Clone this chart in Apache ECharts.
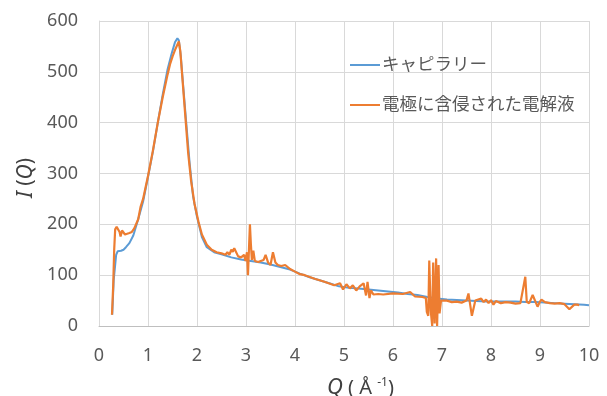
<!DOCTYPE html>
<html><head><meta charset="utf-8">
<script src="https://cdn.jsdelivr.net/npm/echarts@6/dist/echarts.min.js"></script>
<style>html,body{margin:0;padding:0;background:#fff}#c{width:607px;height:396px}</style>
</head><body><div id="c"></div>
<script>
const xTicks = [0,1,2,3,4,5,6,7,8,9,10];
const yTicks = [0,100,200,300,400,500,600];
const seriesNames = ['キャピラリー','電極に含侵された電解液'];

const capQ = [0.27,0.30,0.35,0.38,0.45,0.50,0.55,0.62,0.70,0.80,0.90,1.00,1.10,1.20,1.30,1.40,1.48,1.55,1.60,1.63,1.67,1.72,1.78,1.85,1.92,2.00,2.10,2.20,2.35,2.50,2.70,2.90,3.10,3.30,3.50,3.70,3.90,4.10,4.30,4.50,4.70,4.90,5.10,5.30,5.50,5.70,5.90,6.10,6.30,6.50,6.70,6.90,7.10,7.30,7.50,7.70,7.90,8.10,8.30,8.50,8.70,8.90,9.10,9.30,9.50,9.70,9.90,10.0];
const capI = [22,90,140,147,148,150,155,163,178,210,245,293,343,400,455,505,535,558,566,562,530,470,400,320,255,215,175,155,145,141,135,131,128,125,121,116,111,103,96,90,84,78,75,74,72,70,68,66,63,61,57,54,52,51,50,49,48,48,48,48,47,47,46,45,44,43,42,41];

const elecQ = [0.265,0.29,0.31,0.33,0.36,0.39,0.42,0.44,0.47,0.50,0.53,0.57,0.62,0.67,0.72,0.76,0.80,0.85,0.90,1.00,1.10,1.20,1.30,1.40,1.45,1.50,1.53,1.56,1.60,1.63,1.66,1.70,1.76,1.82,1.88,1.95,2.03,2.10,2.20,2.30,2.40,2.50,2.58,2.62,2.66,2.70,2.73,2.76,2.80,2.84,2.90,2.96,2.99,3.02,3.04,3.06,3.08,3.10,3.12,3.15,3.18,3.25,3.30,3.36,3.40,3.45,3.50,3.55,3.60,3.65,3.72,3.80,3.90,4.00,4.10,4.20,4.40,4.60,4.80,4.92,4.98,5.05,5.12,5.18,5.25,5.32,5.40,5.45,5.48,5.52,5.55,5.60,5.70,5.80,6.00,6.20,6.35,6.45,6.60,6.67,6.69,6.72,6.74,6.77,6.80,6.82,6.85,6.88,6.90,6.93,6.95,6.98,7.02,7.10,7.20,7.30,7.40,7.50,7.54,7.57,7.61,7.65,7.68,7.72,7.80,7.85,7.90,7.95,8.00,8.05,8.10,8.20,8.30,8.40,8.50,8.60,8.70,8.73,8.75,8.78,8.85,8.95,9.00,9.03,9.10,9.20,9.30,9.40,9.50,9.60,9.70,9.76,9.80,9.90,10.0];
const elecI = [22,80,150,190,195,194,185,176,188,185,180,183,183,185,192,193,210,235,250,295,345,400,450,495,515,530,528,545,548,560,540,490,415,340,285,240,205,180,160,150,145,143,140,145,140,150,146,153,150,137,135,140,128,145,100,150,200,160,130,148,128,126,128,130,140,125,120,145,125,120,118,120,112,107,102,100,93,87,80,84,72,82,74,80,70,78,84,60,87,55,70,62,63,62,64,63,67,58,57,55,28,20,129,30,0,125,5,133,0,120,25,50,48,50,47,48,46,50,64,45,20,22,50,47,54,47,52,45,51,42,49,45,47,46,44,45,97,47,46,45,61,38,48,52,47,45,44,45,43,33,42,42,41];

const chart = echarts.init(document.getElementById('c'), null, {renderer:'canvas'});
const font = "'Noto Sans', 'Noto Sans CJK JP', sans-serif";
const pair = (q, v) => q.map((x, i) => [x, v[i]]);
chart.setOption({
  animation: false,
  backgroundColor: '#fff',
  grid: {left: 99, right: 18, top: 21, bottom: 70, containLabel: false},
  legend: {
    orient: 'vertical', left: 345, top: 50, itemWidth: 30, itemHeight: 2, itemGap: 20,
    icon: 'rect',
    textStyle: {fontSize: 17.5, color: '#595959', fontFamily: font, lineHeight: 20, padding: [0,0,0,-3]},
    data: seriesNames
  },
  xAxis: {
    type: 'value', min: xTicks[0], max: xTicks[xTicks.length-1], interval: 1,
    axisLine: {lineStyle: {color: '#bfbfbf', width: 1}},
    axisTick: {show: false},
    splitLine: {show: true, lineStyle: {color: '#d9d9d9', width: 1}},
    axisLabel: {fontSize: 18, color: '#595959', fontFamily: font, margin: 21}
  },
  yAxis: {
    type: 'value', min: yTicks[0], max: yTicks[yTicks.length-1], interval: 100,
    axisLine: {show: true, lineStyle: {color: '#d9d9d9', width: 1}},
    axisTick: {show: false},
    splitLine: {show: true, lineStyle: {color: '#d9d9d9', width: 1}},
    axisLabel: {fontSize: 18, color: '#595959', fontFamily: font, margin: 21}
  },
  graphic: [
    {type: 'text', left: 327, top: 377, style: {
      text: '{q|Q}{n| ( Å }{s|-1}{n|)}', fill: '#404040',
      rich: {
        q: {fontSize: 22, fontStyle: 'italic', fontFamily: font, fill: '#404040'},
        n: {fontSize: 20, fontFamily: font, fill: '#404040'},
        s: {fontSize: 12, fontFamily: font, fill: '#404040', verticalAlign: 'top', padding: [0,0,10,0]}
      }}},
    {type: 'text', x: 16, y: 198, rotation: Math.PI/2, style: {
      text: '{i|I}{n| (}{i|Q}{n|)}',
      rich: {
        i: {fontSize: 21, fontStyle: 'italic', fontFamily: font, fill: '#404040'},
        n: {fontSize: 21, fontFamily: font, fill: '#404040'}
      }}}
  ],
  series: [
    {name: seriesNames[0], type: 'line', data: pair(capQ, capI), showSymbol: false, symbol: 'none',
     lineStyle: {color: '#5B9BD5', width: 2}, itemStyle: {color: '#5B9BD5'}},
    {name: seriesNames[1], type: 'line', data: pair(elecQ, elecI), showSymbol: false, symbol: 'none',
     lineStyle: {color: '#ED7D31', width: 2.2}, itemStyle: {color: '#ED7D31'}}
  ]
});
</script></body></html>
